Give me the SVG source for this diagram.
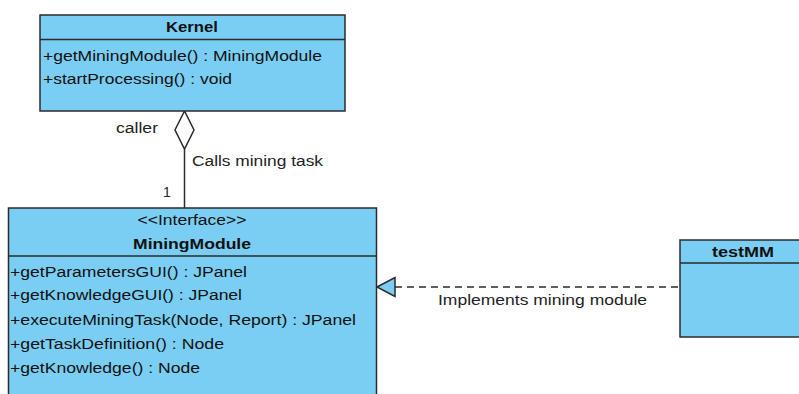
<svg xmlns="http://www.w3.org/2000/svg" width="799" height="394" viewBox="0 0 799 394">
  <style>
    .box { fill: #7acef4; stroke: #2b2b2b; stroke-width: 1.5; }
    .div { stroke: #2b2b2b; stroke-width: 1.5; }
    .t { font-family: "Liberation Sans", Arial, sans-serif; font-size: 14px; fill: #111; }
    .b { font-weight: bold; text-anchor: middle; }
    .c { text-anchor: middle; }
    .lbl { font-family: "Liberation Sans", Arial, sans-serif; font-size: 14px; fill: #222; }
    .line { stroke: #2b2b2b; stroke-width: 1.5; fill: none; }
  </style>
  <rect width="799" height="394" fill="#ffffff"/>

  <g id="connectors">
    <!-- aggregation: Kernel (caller) to MiningModule -->
    <line class="line" x1="184.5" y1="149" x2="184.5" y2="208"/>
    <polygon points="184.5,111 175,130 184.5,149 194,130" fill="#ffffff" stroke="#2b2b2b" stroke-width="1.5"/>
    <text class="lbl" x="116" y="133" textLength="42" lengthAdjust="spacingAndGlyphs">caller</text>
    <text class="lbl" x="192" y="166" textLength="131" lengthAdjust="spacingAndGlyphs">Calls mining task</text>
    <text class="lbl" x="163" y="197">1</text>
    <!-- realization: testMM implements MiningModule -->
    <line class="line" x1="395" y1="287" x2="680" y2="287" stroke-dasharray="7,5"/>
    <polygon points="377,287 395,277.5 395,296.5" fill="#7acef4" stroke="#2b2b2b" stroke-width="1.5"/>
    <text class="lbl" x="438" y="305" textLength="209" lengthAdjust="spacingAndGlyphs">Implements mining module</text>
  </g>

  <g id="kernel">
    <rect class="box" x="40" y="15" width="305" height="96"/>
    <line class="div" x1="40" y1="39.5" x2="345" y2="39.5"/>
    <text class="t b" x="192" y="32" textLength="52" lengthAdjust="spacingAndGlyphs">Kernel</text>
    <text class="t" x="43" y="61" textLength="279" lengthAdjust="spacingAndGlyphs">+getMiningModule() : MiningModule</text>
    <text class="t" x="43" y="84" textLength="189" lengthAdjust="spacingAndGlyphs">+startProcessing() : void</text>
  </g>

  <g id="miningModule">
    <rect class="box" x="8.5" y="208" width="368" height="200"/>
    <line class="div" x1="8.5" y1="256" x2="376.5" y2="256"/>
    <text class="t c" x="192" y="225" textLength="109" lengthAdjust="spacingAndGlyphs">&lt;&lt;Interface&gt;&gt;</text>
    <text class="t b" x="192" y="249" textLength="118" lengthAdjust="spacingAndGlyphs">MiningModule</text>
    <text class="t" x="10" y="277" textLength="237" lengthAdjust="spacingAndGlyphs">+getParametersGUI() : JPanel</text>
    <text class="t" x="10" y="300" textLength="232" lengthAdjust="spacingAndGlyphs">+getKnowledgeGUI() : JPanel</text>
    <text class="t" x="10" y="325" textLength="346" lengthAdjust="spacingAndGlyphs">+executeMiningTask(Node, Report) : JPanel</text>
    <text class="t" x="10" y="349" textLength="214" lengthAdjust="spacingAndGlyphs">+getTaskDefinition() : Node</text>
    <text class="t" x="10" y="373" textLength="190" lengthAdjust="spacingAndGlyphs">+getKnowledge() : Node</text>
  </g>

  <g id="testMM">
    <rect class="box" x="680" y="240" width="130" height="97"/>
    <line class="div" x1="680" y1="263" x2="810" y2="263"/>
    <text class="t b" x="743" y="257" textLength="62" lengthAdjust="spacingAndGlyphs">testMM</text>
  </g>
</svg>
